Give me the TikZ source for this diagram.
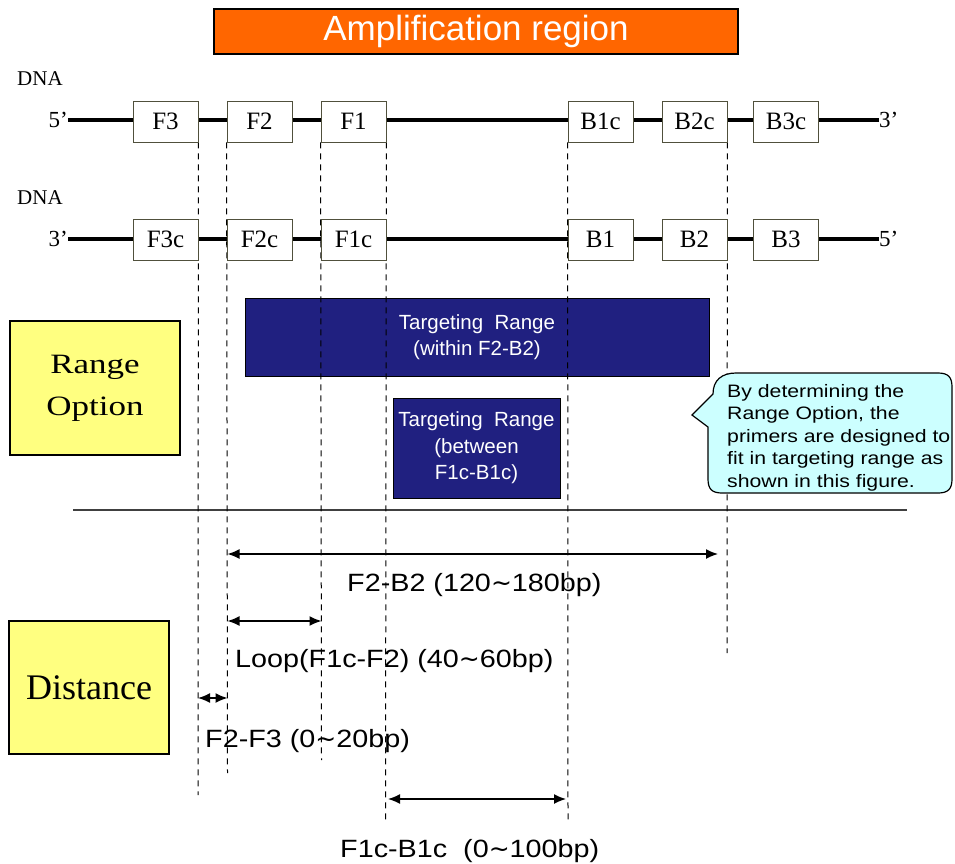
\documentclass[tikz,border=0pt]{standalone}
\usepackage{fontspec}
\setmainfont{Liberation Serif}
\newfontfamily\gothic{Liberation Sans}
\newfontfamily\gothicwide[FakeStretch=1.15]{Liberation Sans}
\newfontfamily\notefont[FakeStretch=1.18]{Liberation Sans}
\newfontfamily\widerm[FakeStretch=1.25]{Liberation Serif}
\newfontfamily\symfont{DejaVu Sans}
\newcommand{\wv}{{\symfont ∼}}
\usetikzlibrary{arrows.meta}
\pgfdeclarelayer{back}
\pgfsetlayers{back,main}
\definecolor{amporange}{RGB}{255,102,0}
\definecolor{targetblue}{RGB}{32,32,128}
\definecolor{notecyan}{RGB}{204,255,255}
\definecolor{optyellow}{RGB}{255,255,128}
\definecolor{boxedge}{RGB}{80,80,60}
\definecolor{sepgray}{RGB}{64,64,64}

\begin{document}
\begin{tikzpicture}[
        x=1pt, y=-1pt,
        seg/.style = {draw=boxedge, thick, fill=white, minimum width=65pt, minimum height=41pt, inner sep=0pt, font=\fontsize{25}{25}\selectfont},
        endlab/.style = {inner sep=0pt, font=\fontsize{23}{23}\selectfont},
        strand/.style = {draw, line width=4pt},
        guide/.style = {draw, line width=1pt, dash pattern=on 6pt off 5pt},
        target/.style = {draw=black, fill=targetblue, text=white, inner sep=0pt, align=center, font=\gothic\fontsize{20.5}{26.5}\selectfont},
        optbox/.style = {draw=black, line width=1.2pt, fill=optyellow, inner sep=0pt, align=center},
        dimarr/.style = {draw, line width=1.5pt, {Latex[length=12pt,width=10pt]}-{Latex[length=12pt,width=10pt]}},
        dimlab/.style = {anchor=base west, inner sep=0pt, font=\gothicwide\fontsize{25}{25}\selectfont},
    ]
    \useasboundingbox (0,0) rectangle (955,863);

    \node (amp) [draw=black, line width=1.2pt, fill=amporange, minimum width=524pt, minimum height=45pt, inner sep=0pt, text=white, font=\gothic\fontsize{35}{35}\selectfont] at (476,31.5) {Amplification region};

    % upper strand
    \node (DNA1) [endlab, anchor=west, font=\fontsize{21}{21}\selectfont] at (17,79) {DNA};
    \node (U5) [endlab, anchor=east] at (68,120) {5’};
    \node (U3) [endlab, anchor=west] at (879,120) {3’};
    \node (F3) [seg] at (165.5,121.5) {F3};
    \node (F2) [seg] at (259.5,121.5) {F2};
    \node (F1) [seg] at (353.5,121.5) {F1};
    \node (B1c) [seg] at (600.5,121.5) {B1c};
    \node (B2c) [seg] at (694.5,121.5) {B2c};
    \node (B3c) [seg] at (786,121.5) {B3c};

    % lower strand
    \node (DNA2) [endlab, anchor=west, font=\fontsize{21}{21}\selectfont] at (17,198) {DNA};
    \node (L3) [endlab, anchor=east] at (68,239) {3’};
    \node (L5) [endlab, anchor=west] at (879,239) {5’};
    \node (F3c) [seg] at (165.5,239.5) {F3c};
    \node (F2c) [seg] at (259.5,239.5) {F2c};
    \node (F1c) [seg] at (353.5,239.5) {F1c};
    \node (B1) [seg] at (600.5,239.5) {B1};
    \node (B2) [seg] at (694.5,239.5) {B2};
    \node (B3) [seg] at (786,239.5) {B3};

    \coordinate (g1) at (198,795);
    \coordinate (g2) at (227.5,773);
    \coordinate (g3) at (321.5,760);
    \coordinate (g4) at (385.5,820);
    \coordinate (g5) at (568,820);
    \coordinate (g6) at (727,653);
    \coordinate (sepL) at (73,510);
    \coordinate (sepR) at (907,510);

    \begin{pgfonlayer}{back}
        \node (TR1) [target, minimum width=464pt, minimum height=78pt] at (477,337) {Targeting\ \ Range\\(within F2-B2)};
        \node (TR2) [target, minimum width=167pt, minimum height=100pt] at (476.5,448) {Targeting\ \ Range\\(between\\F1c-B1c)};
        \draw[sepgray, line width=2pt] (sepL) -- (sepR);
        \path[guide] (F3.south east) -- (g1);
        \path[guide] (F2.south west) -- (g2);
        \path[guide] (F1.south west) -- (g3);
        \path[guide] (F1.south east) -- (g4);
        \path[guide] (B1c.south west) -- (g5);
        \path[guide] (B2c.south east) -- (g6);
        \path[strand] (U5.east) -- (U3.west);
        \path[strand] (L3.east) -- (L5.west);
    \end{pgfonlayer}

    \node (RO) [optbox, minimum width=170pt, minimum height=134pt, font=\widerm\fontsize{28}{42}\selectfont] at (95,388) {Range\\Option};
    \node (DI) [optbox, minimum width=160pt, minimum height=133pt, font=\fontsize{36}{36}\selectfont] at (89,687.5) {Distance};

    % distances
    \coordinate (ab1) at (227.5,554);
    \coordinate (ab2) at (718,554);
    \coordinate (al1) at (227.5,621);
    \coordinate (al2) at (321.5,621);
    \coordinate (af1) at (198,698);
    \coordinate (af2) at (227.5,698);
    \coordinate (ac1) at (388,799);
    \coordinate (ac2) at (566,799);
    \path[dimarr] (ab1) -- (ab2);
    \path[dimarr] (al1) -- (al2);
    \path[dimarr] (af1) -- (af2);
    \path[dimarr] (ac1) -- (ac2);
    \node (LB) [dimlab] at (347,591) {F2-B2 (120\wv180bp)};
    \node (LL) [dimlab] at (235,667) {Loop(F1c-F2) (40\wv60bp)};
    \node (LF) [dimlab] at (205,747) {F2-F3 (0\wv20bp)};
    \node (LC) [dimlab] at (340,857) {F1c-B1c\ \ (0\wv100bp)};

    % callout
    \draw[fill=notecyan, line width=1.2pt] (713,394) .. controls (713,380) and (722,373) .. (736,373) -- (938,373) .. controls (948,373) and (952,377) .. (952,387) -- (952,479) .. controls (952,489) and (948,493) .. (938,493) -- (722,493) .. controls (712,493) and (708,489) .. (708,479) -- (708,427) -- (692,415) -- cycle;
    \node (note) [anchor=north west, inner sep=0pt, align=left, font=\notefont\fontsize{18}{22.5}\selectfont] at (727,384) {By determining the\\Range Option, the\\primers are designed to\\fit in targeting range as\\shown in this figure.};
\end{tikzpicture}
\end{document}
